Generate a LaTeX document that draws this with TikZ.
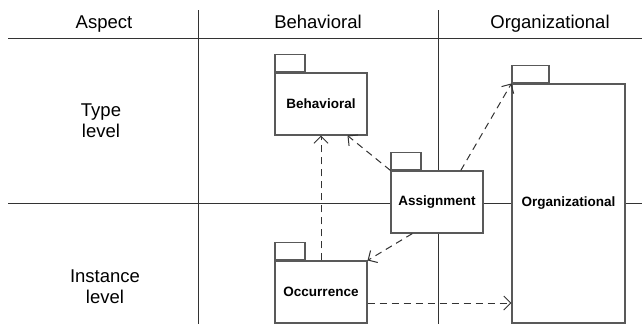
\documentclass[tikz,border=0pt]{standalone}
\usepackage{fontspec}
\setmainfont{Liberation Sans}
\usetikzlibrary{arrows.meta}

\tikzset{
  gridline/.style={draw=black!80, line width=0.9pt},
  pkg/.style={draw=black!65, line width=1.1pt, fill=white, inner sep=0pt,
    font=\fontsize{13.5}{16}\selectfont\bfseries},
  pkgtab/.style={draw=black!65, line width=1.1pt, fill=white, inner sep=0pt,
    minimum height=17pt, anchor=south west},
  dep/.style={dash pattern=on 7pt off 5pt, line width=1pt, draw=black!80,
    -{Straight Barb[length=7pt,width=14pt]}},
  hdr/.style={font=\fontsize{18.5}{21}\selectfont, anchor=base},
  lvl/.style={font=\fontsize{18.5}{21.5}\selectfont, align=center}
}

\begin{document}
\begin{tikzpicture}[x=1pt,y=-1pt]
        \useasboundingbox (0,0) rectangle (642,325);
        % table lines
        \draw[gridline] (8,38) -- (642,38);
        \draw[gridline] (8,203) -- (642,203);
        \draw[gridline] (198,10) -- (198,324);
        \draw[gridline] (438,10) -- (438,324);
        % headings
        \node[hdr](hasp) at (104,28.5) {Aspect};
        \node[hdr](hbeh) at (318,28.5) {Behavioral};
        \node[hdr](horg) at (550,28.5) {Organizational};
        \node[lvl](ltype) at (101,120.5) {Type\\level};
        \node[lvl](linst) at (105,286.5) {Instance\\level};
        % packages
        \node[pkg, minimum width=92pt, minimum height=62pt](beh) at (321,104) {Behavioral};
        \node[pkgtab, minimum width=30pt](tbeh) at (beh.north west) {};
        \node[pkg, minimum width=92pt, minimum height=62pt](asg) at (437,202) {Assignment};
        \node[pkgtab, minimum width=30pt](tasg) at (asg.north west) {};
        \node[pkg, minimum width=92pt, minimum height=62pt](occ) at (321,292) {Occurrence};
        \node[pkgtab, minimum width=30pt](tocc) at (occ.north west) {};
        \node[pkg, minimum width=113pt, minimum height=239pt](org) at (568.5,203.5) {Organizational};
        \node[pkgtab, minimum width=37pt](torg) at (org.north west) {};
        % dependencies
        \draw[dep](occ.north)--(beh.south);
        \draw[dep](asg.north west)--(beh.-50);
        \draw[dep](asg.53)--(org.north west);
        \draw[dep](asg.-128)--(occ.north east);
        \coordinate(occout) at ([yshift=-11pt]occ.east);
        \draw[dep](occout)--(occout -| org.west);
\end{tikzpicture}
\end{document}
